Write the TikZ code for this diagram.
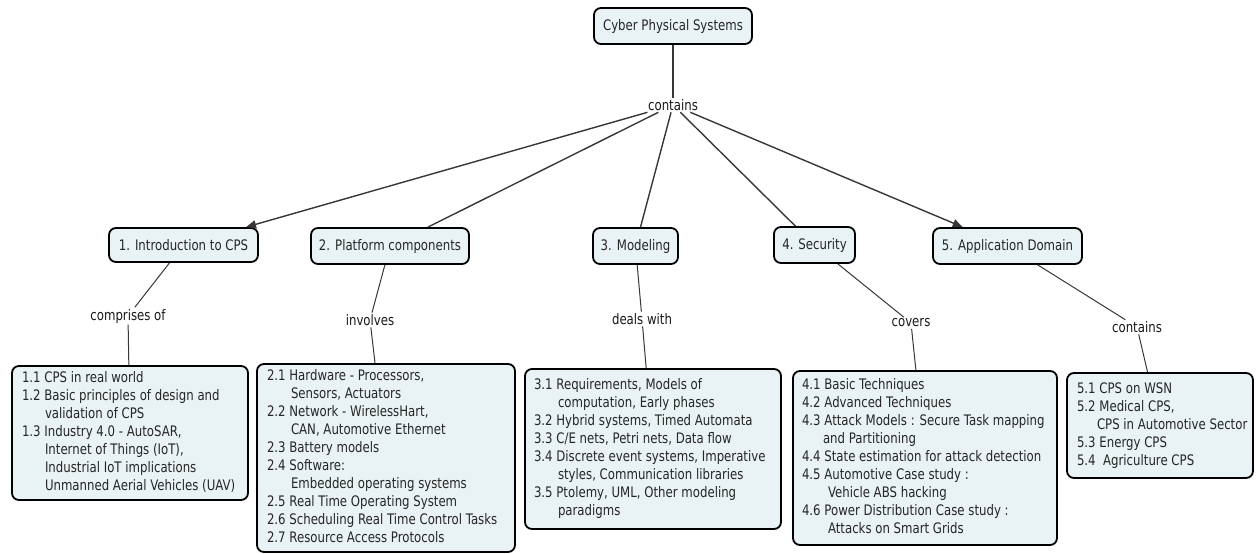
\documentclass[tikz,border=0pt]{standalone}
\usepackage{fontspec}
\setmainfont{DejaVu Sans}[FakeStretch=0.81]
\usetikzlibrary{arrows.meta}
\definecolor{boxfill}{RGB}{233,242,245}
\definecolor{linkgray}{RGB}{55,55,55}
% a block of lines that never wraps, left-aligned in a fixed width
\newcommand\cmaplines[2]{\makebox[#1][l]{\begin{tabular}{@{}l@{}}#2\end{tabular}}}
\begin{document}
\begin{tikzpicture}[x=1pt,y=-1pt,
  concept/.style={draw=black,line width=1.8pt,rounded corners=7pt,fill=boxfill,
    minimum height=36pt,inner xsep=0pt,inner ysep=0pt,
    font=\fontsize{14.5}{17}\selectfont,text=black!85},
  listbox/.style={draw=black,line width=1.8pt,rounded corners=7pt,fill=boxfill,
    inner xsep=10pt,inner ysep=0pt,
    font=\fontsize{14.5}{18}\selectfont,text=black!85},
  linkword/.style={inner sep=1.5pt,font=\fontsize{14.5}{17}\selectfont,text=black!90},
  toplink/.style={draw=linkgray,line width=1.4pt},
  sublink/.style={draw=linkgray,line width=1pt},
  tip/.style={-{Triangle[length=10pt,width=8pt]}}]
\useasboundingbox (0,0) rectangle (1256,554);

% root concept and its linking phrase
\node[concept,minimum width=158pt] (root) at (673,26) {Cyber Physical Systems};
\node[linkword] (has) at (673,105) {contains};

% first-level topics
\node[concept,minimum width=149pt,minimum height=34pt] (c1) at (183.5,245) {1. Introduction to CPS};
\node[concept,minimum width=158pt] (c2) at (390,246) {2. Platform components};
\node[concept,minimum width=85pt] (c3) at (635.5,246) {3. Modeling};
\node[concept,minimum width=81pt] (c4) at (814.5,245) {4. Security};
\node[concept,minimum width=149pt] (c5) at (1007.5,246) {5. Application Domain};

% linking phrases below the topics
\node[linkword] (w1) at (128,316) {comprises of};
\node[linkword] (w2) at (370,320) {involves};
\node[linkword] (w3) at (642,319) {deals with};
\node[linkword] (w4) at (911,323) {covers};
\node[linkword] (w5) at (1137,327) {contains};

% detail lists
\node[listbox,minimum height=134pt] (d1) at (130,433) {\cmaplines{216pt}{%
1.1 CPS in real world\\
1.2 Basic principles of design and\\
\hspace*{23pt}validation of CPS\\
1.3 Industry 4.0 - AutoSAR,\\
\hspace*{23pt}Internet of Things (IoT),\\
\hspace*{23pt}Industrial IoT implications\\
\hspace*{23pt}Unmanned Aerial Vehicles (UAV)}};

\node[listbox,minimum height=188pt] (d2) at (386,458) {\cmaplines{238pt}{%
2.1 Hardware - Processors,\\
\hspace*{24pt}Sensors, Actuators\\
2.2 Network - WirelessHart,\\
\hspace*{24pt}CAN, Automotive Ethernet\\
2.3 Battery models\\
2.4 Software:\\
\hspace*{24pt}Embedded operating systems\\
2.5 Real Time Operating System\\
2.6 Scheduling Real Time Control Tasks\\
2.7 Resource Access Protocols}};

\node[listbox,inner xsep=9pt,minimum height=160pt] (d3) at (653,449) {\cmaplines{238pt}{%
3.1 Requirements, Models of\\
\hspace*{24pt}computation, Early phases\\
3.2 Hybrid systems, Timed Automata\\
3.3 C/E nets, Petri nets, Data flow\\
3.4 Discrete event systems, Imperative\\
\hspace*{24pt}styles, Communication libraries\\
3.5 Ptolemy, UML, Other modeling\\
\hspace*{24pt}paradigms}};

\node[listbox,inner xsep=9pt,minimum height=174pt] (d4) at (925,458) {\cmaplines{246pt}{%
4.1 Basic Techniques\\
4.2 Advanced Techniques\\
4.3 Attack Models : Secure Task mapping\\
\hspace*{21pt}and Partitioning\\
4.4 State estimation for attack detection\\
4.5 Automotive Case study :\\
\hspace*{26pt}Vehicle ABS hacking\\
4.6 Power Distribution Case study :\\
\hspace*{26pt}Attacks on Smart Grids}};

\node[listbox,minimum height=105pt] (d5) at (1160,425.5) {\cmaplines{166pt}{%
5.1 CPS on WSN\\
5.2 Medical CPS,\\
\hspace*{20pt}CPS in Automotive Sector\\
5.3 Energy CPS\\
5.4 \ Agriculture CPS}};

% links from the root
\draw[toplink] (root) -- (has);
\draw[toplink,tip] (has) -- (c1);
\draw[toplink] (has) -- (c2);
\draw[toplink] (has) -- (c3);
\draw[toplink] (has) -- (c4);
\draw[toplink,tip] (has) -- (c5);

% links from each topic to its list
\draw[sublink] (c1) -- (w1);
\draw[sublink] (w1) -- (d1);
\draw[sublink] (c2) -- (w2);
\draw[sublink] (w2) -- (d2);
\draw[sublink] (c3) -- (w3);
\draw[sublink] (w3) -- (d3);
\draw[sublink] (c4) -- (w4);
\draw[sublink] (w4) -- (d4);
\draw[sublink] (c5) -- (w5);
\draw[sublink] (w5) -- (d5);
\end{tikzpicture}
\end{document}
